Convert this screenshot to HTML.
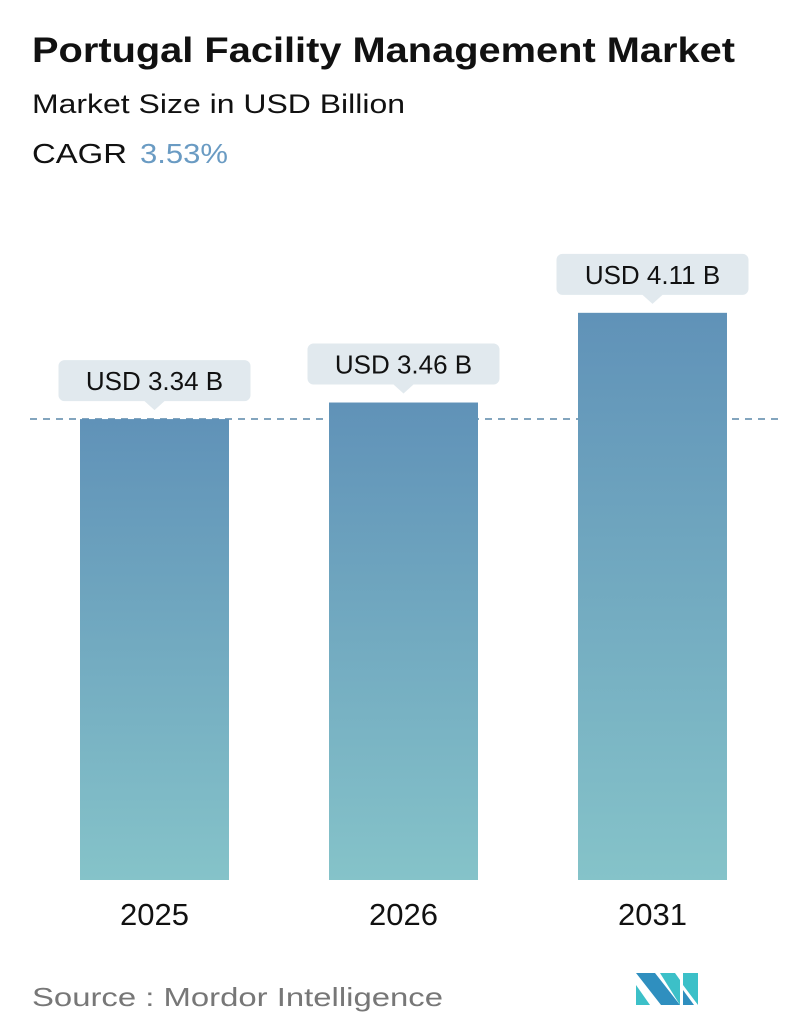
<!DOCTYPE html>
<html><head><meta charset="utf-8"><style>
body{margin:0;background:#fff;font-family:"Liberation Sans",sans-serif;}
svg{display:block}
</style></head><body>
<svg width="796" height="1034" viewBox="0 0 796 1034">
<defs>
<linearGradient id="g" x1="0" y1="0" x2="0" y2="1">
<stop offset="0" stop-color="#6092b8"/><stop offset="1" stop-color="#85c3c9"/>
</linearGradient>
</defs>
<text x="32" y="62" font-size="35" font-weight="bold" fill="#111" textLength="703" lengthAdjust="spacingAndGlyphs">Portugal Facility Management Market</text>
<text x="32" y="113" font-size="27" fill="#111" textLength="373" lengthAdjust="spacingAndGlyphs">Market Size in USD Billion</text>
<text x="32" y="163" font-size="28" fill="#111" textLength="95" lengthAdjust="spacingAndGlyphs">CAGR</text>
<text x="140" y="163" font-size="28" fill="#6a9bc3" textLength="88" lengthAdjust="spacingAndGlyphs">3.53%</text>
<line x1="30" y1="419" x2="782" y2="419" stroke="#5a87a8" stroke-width="1.5" stroke-dasharray="7,6"/>
<g id="bars"></g>
<text x="32" y="1006" font-size="26" fill="#777" textLength="411" lengthAdjust="spacingAndGlyphs">Source :  Mordor Intelligence</text>
<g>
<polygon points="636,973 655,973 680,1005 661,1005" fill="#2f8fbf"/>
<polygon points="636,985 650,1005 636,1005" fill="#3cc0c8"/>
<polygon points="660,973 675,973 680,980 680,1005" fill="#3cc0c8"/>
<polygon points="683,973 698,973 698,1005 683,985" fill="#3cc0c8"/>
<polygon points="683,990 694,1005 683,1005" fill="#2f8fbf"/>
</g>
</svg>
<script>
const categories=["2025","2026","2031"];
const values=[3.34,3.46,4.11];
const labels=["USD 3.34 B","USD 3.46 B","USD 4.11 B"];
const ns="http://www.w3.org/2000/svg";
const base=880, scale=138, barW=149, x0=80, step=249;
const yOf=v=>base-v*scale;
const g=document.getElementById('bars');
function mk(t,a){const e=document.createElementNS(ns,t);for(const k in a)e.setAttribute(k,a[k]);g.appendChild(e);return e;}
categories.forEach((c,i)=>{
 const x=x0+i*step, y=yOf(values[i]), cx=x+barW/2;
 const r=mk('rect',{x:x,y:y,width:barW,height:base-y,fill:'url(#g)'});
 
 
 const by=y-59;
 const p=mk('path',{d:`M${cx-96},${by+6} a6,6 0 0 1 6,-6 h180 a6,6 0 0 1 6,6 v29 a6,6 0 0 1 -6,6 h-80 l-10,9 l-10,-9 h-80 a6,6 0 0 1 -6,-6 z`,fill:'#e1e9ee'});
 
 
 const t=mk('text',{x:cx,y:by+30,'font-size':'26','text-anchor':'middle',fill:'#111'});
 t.textContent=labels[i];
 
 
 const xl=mk('text',{x:cx,y:925,'font-size':'31','text-anchor':'middle',fill:'#111'});
 xl.textContent=c;
 
 
});
</script>
</body></html>
